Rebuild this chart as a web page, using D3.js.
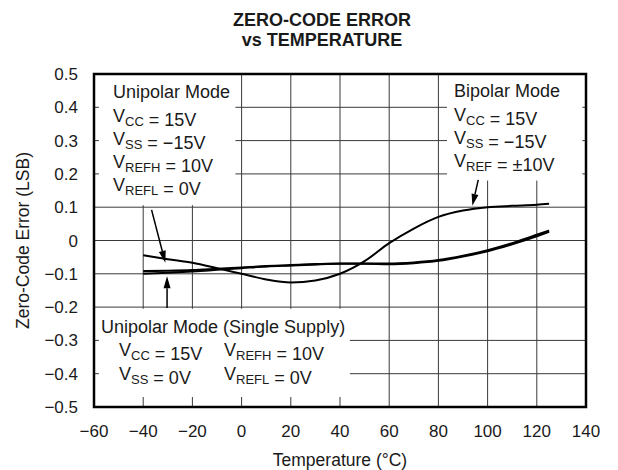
<!DOCTYPE html>
<html><head><meta charset="utf-8">
<script src="https://cdn.jsdelivr.net/npm/d3@7"></script>
<style>
body{margin:0;background:#fff}
text{font-family:"Liberation Sans",Arial,Helvetica,sans-serif;fill:#1a1a1a}
</style>
</head><body><svg id="c" width="618" height="470"></svg>
<script>
// ---- data ----
const temps = [-40,-30,-20,-10,0,10,20,30,40,50,60,70,80,90,100,110,120,125];
const bipolar = [-0.044,-0.056,-0.067,-0.083,-0.100,-0.117,-0.126,-0.120,-0.100,-0.062,-0.008,0.036,0.071,0.090,0.100,0.104,0.107,0.110];
const unipolarDual = [-0.092,-0.091,-0.089,-0.085,-0.081,-0.077,-0.074,-0.071,-0.069,-0.069,-0.069,-0.066,-0.059,-0.046,-0.029,-0.008,0.017,0.030];
const unipolarSingle = [-0.100,-0.097,-0.093,-0.088,-0.083,-0.078,-0.075,-0.072,-0.070,-0.070,-0.071,-0.068,-0.061,-0.048,-0.032,-0.011,0.013,0.026];
const xTicks = [-60,-40,-20,0,20,40,60,80,100,120,140];
const yTicks = [0.5,0.4,0.3,0.2,0.1,0,-0.1,-0.2,-0.3,-0.4,-0.5];
const titleLines = ["ZERO-CODE ERROR","vs TEMPERATURE"];

const svg = d3.select("#c");
const L=94,R=586,T=74,B=407;
const x = d3.scaleLinear().domain([-60,140]).range([L,R]);
const y = d3.scaleLinear().domain([-0.5,0.5]).range([B,T]);

// grid
const g = svg.append("g");
g.selectAll(".vx").data(xTicks).join("line")
 .attr("x1",d=>x(d)).attr("x2",d=>x(d)).attr("y1",T).attr("y2",B)
 .attr("stroke","#3a3a3a").attr("stroke-width",1);
g.selectAll(".hy").data(yTicks).join("line")
 .attr("x1",L).attr("x2",R).attr("y1",d=>y(d)).attr("y2",d=>y(d))
 .attr("stroke","#3a3a3a").attr("stroke-width",1);

// white annotation boxes (hide grid)
const boxes = [
  [-58,0.5,-2.5,0.106],     // unipolar dual
  [83.5,0.5,138.5,0.18],    // bipolar
  [-58,-0.205,44,-0.47]     // single supply
];
svg.selectAll(".box").data(boxes).join("rect")
 .attr("x",d=>x(d[0])).attr("y",d=>y(d[1]))
 .attr("width",d=>x(d[2])-x(d[0])).attr("height",d=>y(d[3])-y(d[1]))
 .attr("fill","#fff");

// curves
const line = d3.line().x(d=>x(d[0])).y(d=>y(d[1])).curve(d3.curveMonotoneX);
[[unipolarSingle,2.1],[unipolarDual,2.1],[bipolar,2.0]].forEach(([s,w])=>{
  svg.append("path").datum(temps.map((t,i)=>[t,s[i]]))
   .attr("d",line).attr("fill","none").attr("stroke","#000").attr("stroke-width",w)
   .attr("stroke-linejoin","round");
});

// frame
svg.append("rect").attr("x",L).attr("y",T).attr("width",R-L).attr("height",B-T)
 .attr("fill","none").attr("stroke","#000").attr("stroke-width",2.5);

// axes labels
const fmt = d => d===0 ? "0" : d3.format(".1f")(d);
svg.selectAll(".yl").data(yTicks).join("text")
 .attr("x",L-16).attr("y",d=>y(d)+6).attr("text-anchor","end")
 .attr("font-size",17).text(fmt);
svg.selectAll(".xl").data(xTicks).join("text")
 .attr("x",d=>x(d)).attr("y",B+30).attr("text-anchor","middle")
 .attr("font-size",17).text(d=>d3.format("d")(d));
svg.append("text").attr("x",(L+R)/2).attr("y",466).attr("text-anchor","middle")
 .attr("font-size",17.5).text("Temperature (°C)");
svg.append("text").attr("transform",`translate(29,${(T+B)/2}) rotate(-90)`)
 .attr("text-anchor","middle").attr("font-size",17.5).text("Zero-Code Error (LSB)");

// title
svg.selectAll(".tt").data(titleLines).join("text")
 .attr("x",322).attr("y",(d,i)=>26+i*20).attr("text-anchor","middle")
 .attr("font-size",18).attr("font-weight","bold").text(d=>d);

// annotation text
function label(xp, yp, parts){
  const t = svg.append("text").attr("x",xp).attr("y",yp).attr("font-size",18);
  parts.forEach(p=>{
    if(typeof p==="string"){ t.append("tspan").text(p); }
    else if(p.sub){ t.append("tspan").attr("font-size",13).attr("dy",4).text(p.sub);
                    t.append("tspan").attr("dy",-4).text(""); }
    else if(p.dx){ t.append("tspan").attr("dx",p.dx).text(p.t); }
  });
}
label(113,98,["Unipolar Mode"]);
label(113,122,["V",{sub:"CC"}," = 15V"]);
label(113,145,["V",{sub:"SS"}," = −15V"]);
label(113,168,["V",{sub:"REFH"}," = 10V"]);
label(113,191,["V",{sub:"REFL"}," = 0V"]);

label(454,97,["Bipolar Mode"]);
label(454,121,["V",{sub:"CC"}," = 15V"]);
label(454,144,["V",{sub:"SS"}," = −15V"]);
label(454,167,["V",{sub:"REF"}," = ±10V"]);

label(101,333,["Unipolar Mode (Single Supply)"]);
label(119,356,["V",{sub:"CC"}," = 15V"]);
label(224,356,["V",{sub:"REFH"}," = 10V"]);
label(119,380,["V",{sub:"SS"}," = 0V"]);
label(224,380,["V",{sub:"REFL"}," = 0V"]);

// arrows: [fromT, fromV, toT, toV]
const arrows = [[-36.6,0.092,-31.0,-0.067],[-30.3,-0.203,-30.3,-0.107],[96.2,0.182,93.8,0.104]];
arrows.forEach(a=>{
  const x1=x(a[0]),y1=y(a[1]),x2=x(a[2]),y2=y(a[3]);
  const ang=Math.atan2(y2-y1,x2-x1), len=12, w=3.5;
  const bx=x2-len*Math.cos(ang), by=y2-len*Math.sin(ang);
  svg.append("line").attr("x1",x1).attr("y1",y1).attr("x2",bx).attr("y2",by)
   .attr("stroke","#000").attr("stroke-width",1.5);
  const px=-Math.sin(ang)*w, py=Math.cos(ang)*w;
  svg.append("path").attr("d",`M${x2},${y2}L${bx+px},${by+py}L${bx-px},${by-py}Z`).attr("fill","#000");
});
</script></body></html>
